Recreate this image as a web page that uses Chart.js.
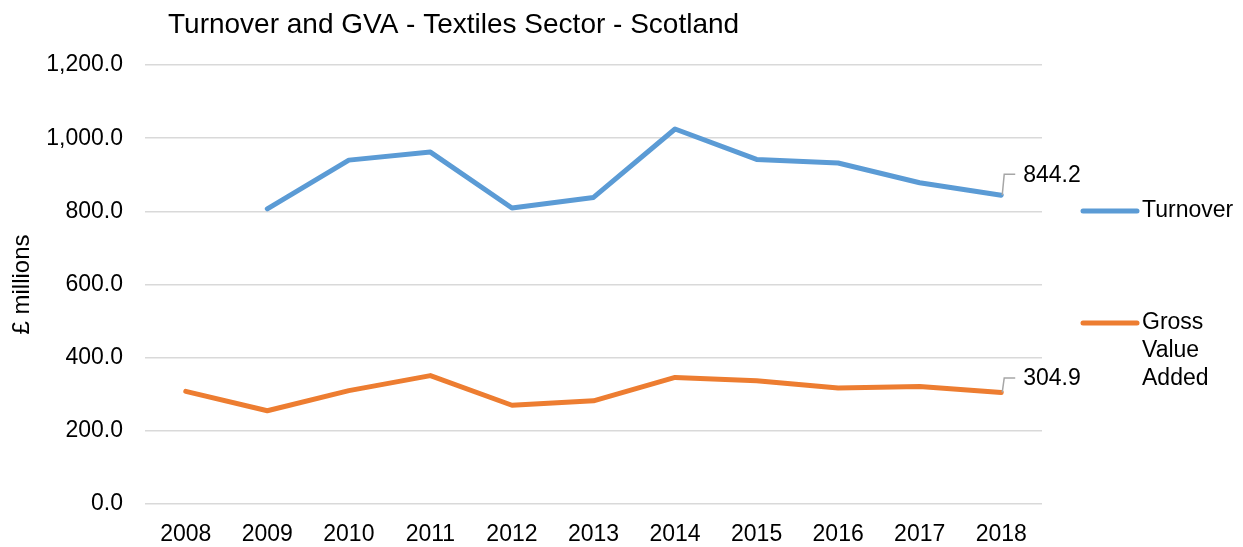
<!DOCTYPE html>
<html>
<head>
<meta charset="utf-8">
<title>Turnover and GVA - Textiles Sector - Scotland</title>
<script src="https://cdn.jsdelivr.net/npm/chart.js@4"></script>
<style>
    body { margin: 0; background: #fff; }
    canvas { display: block; }
</style>
</head>
<body>
<canvas id="textilesChart" width="1243" height="547"></canvas>
<script>
var years = ['2008', '2009', '2010', '2011', '2012', '2013', '2014', '2015', '2016', '2017', '2018'];
var turnover = [null, 807, 940, 962, 809, 838, 1025, 942, 932, 878, 844.2];
var gva = [308, 255, 310, 351, 270, 282, 346, 337, 317, 321, 304.9];
var yTicks = [0, 200, 400, 600, 800, 1000, 1200];

var FONT = '"Liberation Sans", Arial, sans-serif';
var BLUE = '#5b9bd5';
var ORANGE = '#ed7d31';

function fmt(v) {
    return v.toLocaleString('en-GB', { minimumFractionDigits: 1, maximumFractionDigits: 1 });
}

// title, end-of-line value labels and the legend on the right
var decorations = {
    id: 'decorations',
    afterDraw: function(chart) {
        var ctx = chart.ctx;
        var area = chart.chartArea;
        ctx.save();

        ctx.fillStyle = '#000';
        ctx.font = '28px ' + FONT;
        ctx.textAlign = 'left';
        ctx.textBaseline = 'alphabetic';
        ctx.fillText('Turnover and GVA - Textiles Sector - Scotland', 168, 33);

        // value labels for the last year, with a small leader line
        var lifts = [21, 14.5];
        ctx.font = '23px ' + FONT;
        ctx.textBaseline = 'middle';
        chart.data.datasets.forEach(function(ds, i) {
            var meta = chart.getDatasetMeta(i);
            var last = ds.data.length - 1;
            var pt = meta.data[last];
            var topY = pt.y - lifts[i];
            ctx.strokeStyle = '#a6a6a6';
            ctx.lineWidth = 1.5;
            ctx.beginPath();
            ctx.moveTo(pt.x + 1, pt.y);
            ctx.lineTo(pt.x + 3, topY);
            ctx.lineTo(pt.x + 14, topY);
            ctx.stroke();
            ctx.fillText(fmt(ds.data[last]), pt.x + 22, topY + 1);
        });

        // legend
        var legend = [
            { color: BLUE, lines: ['Turnover'], y: 211 },
            { color: ORANGE, lines: ['Gross', 'Value', 'Added'], y: 323 }
        ];
        var x0 = area.right + 41;
        legend.forEach(function(item) {
            ctx.strokeStyle = item.color;
            ctx.lineWidth = 5;
            ctx.lineCap = 'round';
            ctx.beginPath();
            ctx.moveTo(x0, item.y);
            ctx.lineTo(x0 + 54, item.y);
            ctx.stroke();
            item.lines.forEach(function(t, k) {
                ctx.fillText(t, x0 + 59, item.y + k * 28);
            });
        });

        ctx.restore();
    }
};

var chart = new Chart(document.getElementById('textilesChart'), {
    type: 'line',
    data: {
        labels: years,
        datasets: [
            {
                label: 'Turnover',
                data: turnover,
                borderColor: BLUE,
                backgroundColor: BLUE,
                borderWidth: 5,
                pointRadius: 0,
                borderCapStyle: 'round',
                borderJoinStyle: 'round',
                tension: 0
            },
            {
                label: 'Gross Value Added',
                data: gva,
                borderColor: ORANGE,
                backgroundColor: ORANGE,
                borderWidth: 5,
                pointRadius: 0,
                borderCapStyle: 'round',
                borderJoinStyle: 'round',
                tension: 0
            }
        ]
    },
    options: {
        responsive: false,
        animation: false,
        layout: { padding: { left: 8, top: 65, right: 201, bottom: 0 } },
        plugins: {
            legend: { display: false },
            title: { display: false },
            tooltip: { enabled: false }
        },
        scales: {
            x: {
                offset: true,
                grid: { display: false, drawTicks: false },
                border: { display: false },
                ticks: { color: '#000', font: { family: FONT, size: 23 }, padding: 17, maxRotation: 0 },
                afterFit: function(scale) { scale.height = 43; }
            },
            y: {
                min: 0,
                max: 1200,
                afterBuildTicks: function(scale) {
                    scale.ticks = yTicks.map(function(v) { return { value: v }; });
                },
                grid: { color: '#d9d9d9', lineWidth: 1.5, drawTicks: false },
                border: { display: false },
                ticks: {
                    color: '#000',
                    font: { family: FONT, size: 23 },
                    padding: 22,
                    callback: function(v) { return fmt(v); }
                },
                title: {
                    display: true,
                    text: '£ millions',
                    color: '#000',
                    font: { family: FONT, size: 24 },
                    padding: 0
                },
                afterFit: function(scale) { scale.width = 137; }
            }
        }
    },
    plugins: [decorations]
});
</script>
</body>
</html>
